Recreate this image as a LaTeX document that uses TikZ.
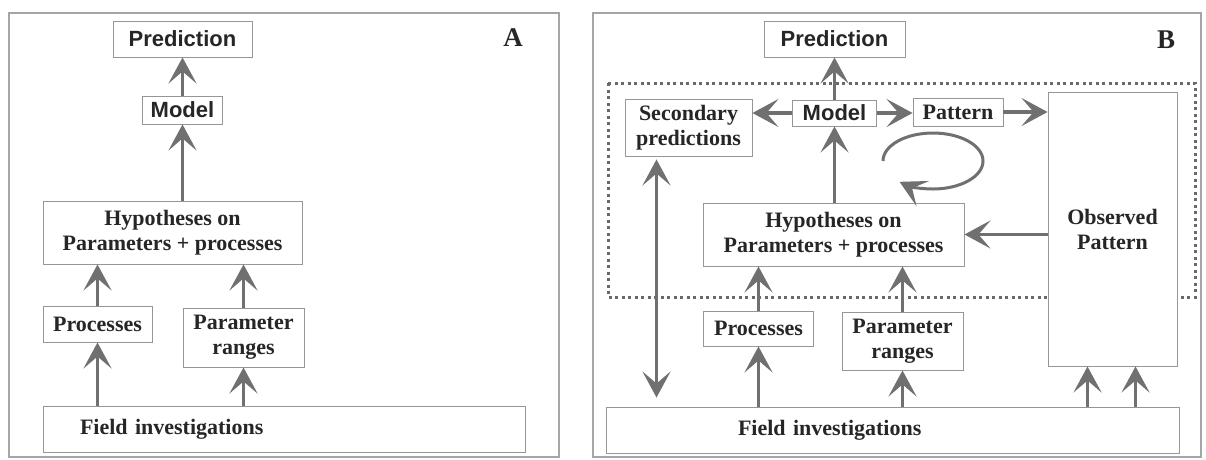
\documentclass[tikz,border=0pt]{standalone}
\usepackage{fontspec}
\setmainfont{Liberation Serif}
\newfontfamily\arialfont{Liberation Sans}
\usetikzlibrary{arrows.meta}

\definecolor{boxgray}{RGB}{150,150,150}
\definecolor{arrgray}{RGB}{112,112,112}
\definecolor{framegray}{RGB}{165,165,165}
\definecolor{dotgray}{RGB}{105,105,105}

\tikzset{
  >={Stealth[length=26pt, width=28pt, inset=12pt]},
  box/.style={draw=boxgray, line width=0.9pt, fill=white, inner sep=0pt, align=center,
    text=black!85, font=\fontsize{22}{25}\selectfont\bfseries},
  sansbox/.style={box, font=\fontsize{22}{25}\selectfont\arialfont\bfseries},
  arr/.style={draw=arrgray, line width=3.5pt, ->},
  panel/.style={draw=framegray, line width=1.2pt},
  panellabel/.style={font=\fontsize{27}{27}\selectfont\bfseries, text=black!85}
}

\begin{document}
\begin{tikzpicture}[x=1pt, y=-1pt]
        \useasboundingbox (0,0) rectangle (1206,459);
        %%%%%%%%%%%%%%%%%%%%%%%% Panel A %%%%%%%%%%%%%%%%%%%%%%%%%%%%%%%%%%%
        \draw[panel] (9,13) rectangle (559,457); %marco A
        \node[sansbox, minimum width=139, minimum height=36] (predA) at (182.5,39) {Prediction};
        \node[sansbox, minimum width=80, minimum height=28] (modelA) at (182.5,110) {Model};
        \node[box, minimum width=259, minimum height=63] (hypA) at (172.5,232.5) {Hypotheses on\\Parameters + processes};
        \node[box, minimum width=109, minimum height=36] (procA) at (97.5,324) {Processes};
        \node[box, minimum width=121, minimum height=59] (parA) at (243.5,337.5) {Parameter\\ranges};
        \node[box, text width=482pt, minimum height=46, align=left] (fieldA) at (284,429) {\hspace*{37pt}Field investigations};
        \node[panellabel] (labA) at (513,38) {A};
        \draw[arr] (modelA.north) -- (predA.south);
        \draw[arr] (hypA.north -| modelA.south) -- (modelA.south);
        \draw[arr] (procA.north) -- (procA.north |- hypA.south);
        \draw[arr] (parA.north) -- (parA.north |- hypA.south);
        \draw[arr] (fieldA.north -| procA.south) -- (procA.south);
        \draw[arr] (fieldA.north -| parA.south) -- (parA.south);
        %%%%%%%%%%%%%%%%%%%%%%%% Panel B %%%%%%%%%%%%%%%%%%%%%%%%%%%%%%%%%%%
        \draw[panel] (593,13) rectangle (1201,457); %marco B
        \draw[dotgray, line width=3pt, dash pattern=on 3pt off 3.5pt] (608,83) rectangle (1195,297); %caja punteada
        \node[sansbox, minimum width=141, minimum height=36] (predB) at (834.5,39) {Prediction};
        \node[sansbox, minimum width=84, minimum height=26] (modelB) at (834.5,113) {Model};
        \node[box, minimum width=90, minimum height=28] (pattB) at (958,112) {Pattern};
        \node[box, minimum width=127, minimum height=57] (secB) at (688.5,127.5) {Secondary\\predictions};
        \node[box, minimum width=129, minimum height=274] (obsB) at (1112.5,229) {Observed\\Pattern};
        \node[box, minimum width=261, minimum height=63] (hypB) at (833.5,234.5) {Hypotheses on\\Parameters + processes};
        \node[box, minimum width=110, minimum height=35] (procB) at (758.5,328.5) {Processes};
        \node[box, minimum width=121, minimum height=58] (parB) at (902.5,341) {Parameter\\ranges};
        \node[box, text width=573pt, minimum height=46, align=left] (fieldB) at (892.5,430) {\hspace*{132pt}Field investigations};
        \node[panellabel] (labB) at (1166,40) {B};
        \coordinate (secL) at ([xshift=-32pt]secB.south);
        \coordinate (obsL) at ([xshift=-25pt]obsB.south);
        \coordinate (obsR) at ([xshift=23pt]obsB.south);
        \draw[arr] (modelB.north) -- (predB.south);
        \draw[arr] (modelB.west) -- (secB.east |- modelB.west);
        \draw[arr] (modelB.east) -- (pattB.west |- modelB.east);
        \draw[arr] (pattB.east) -- (obsB.west |- pattB.east);
        \draw[arr] (hypB.north -| modelB.south) -- (modelB.south);
        \draw[arr] (obsB.west |- hypB.east) -- (hypB.east);
        \draw[arr] (procB.north) -- (procB.north |- hypB.south);
        \draw[arr] (parB.north) -- (parB.north |- hypB.south);
        \draw[arr] (fieldB.north -| procB.south) -- (procB.south);
        \draw[arr] (fieldB.north -| parB.south) -- (parB.south);
        \draw[arr] (obsL |- fieldB.north) -- (obsL);
        \draw[arr] (obsR |- fieldB.north) -- (obsR);
        \draw[arr, <->, shorten <=3pt, shorten >=9pt] (secL) -- (secL |- fieldB.north); %doble flecha
        \draw[arr, line width=3pt] (883,161) arc[start angle=180, end angle=-132, x radius=50pt, y radius=28pt]; %ciclo
\end{tikzpicture}
\end{document}
